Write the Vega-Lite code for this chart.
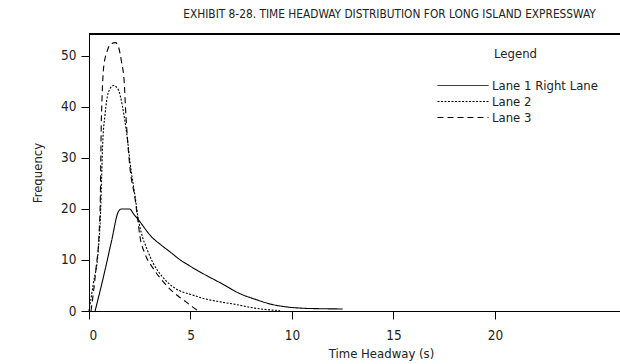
{
  "$schema": "https://vega.github.io/schema/vega-lite/v6.json",
  "autosize": {"type": "none"},
  "width": 531,
  "height": 277,
  "padding": {"left": 89, "top": 34, "right": 0, "bottom": 53},
  "background": "white",
  "config": {
    "view": {"stroke": null},
    "font": "DejaVu Sans Condensed",
    "axis": {"grid": false, "domainColor": "#000", "tickColor": "#000", "labelColor": "#222", "titleColor": "#222", "labelFont": "DejaVu Sans Condensed", "titleFont": "DejaVu Sans Condensed", "labelFontSize": 13.5, "titleFontSize": 13, "titleFontWeight": "normal", "tickSize": 8}
  },
  "title": {
    "text": "EXHIBIT 8-28.  TIME HEADWAY DISTRIBUTION FOR LONG ISLAND EXPRESSWAY",
    "font": "DejaVu Sans Condensed",
    "fontSize": 11.8,
    "fontWeight": "normal",
    "color": "#222",
    "anchor": "middle",
    "frame": "group",
    "dx": 35,
    "offset": 13
  },
  "data": {
    "values": [
      {"lane": "Lane 1 Right Lane", "t": 0.3, "f": 0},
      {"lane": "Lane 1 Right Lane", "t": 0.8, "f": 8.2},
      {"lane": "Lane 1 Right Lane", "t": 1.12, "f": 13.9},
      {"lane": "Lane 1 Right Lane", "t": 1.45, "f": 19.5},
      {"lane": "Lane 1 Right Lane", "t": 1.6, "f": 20},
      {"lane": "Lane 1 Right Lane", "t": 2.0, "f": 20},
      {"lane": "Lane 1 Right Lane", "t": 2.2, "f": 19},
      {"lane": "Lane 1 Right Lane", "t": 2.43, "f": 17.9},
      {"lane": "Lane 1 Right Lane", "t": 3.09, "f": 14.5},
      {"lane": "Lane 1 Right Lane", "t": 3.5, "f": 13.1},
      {"lane": "Lane 1 Right Lane", "t": 3.99, "f": 11.6},
      {"lane": "Lane 1 Right Lane", "t": 4.5, "f": 10},
      {"lane": "Lane 1 Right Lane", "t": 4.98, "f": 8.8},
      {"lane": "Lane 1 Right Lane", "t": 5.63, "f": 7.3},
      {"lane": "Lane 1 Right Lane", "t": 6.62, "f": 5.2},
      {"lane": "Lane 1 Right Lane", "t": 7.44, "f": 3.4},
      {"lane": "Lane 1 Right Lane", "t": 8.26, "f": 2.2},
      {"lane": "Lane 1 Right Lane", "t": 9.0, "f": 1.3},
      {"lane": "Lane 1 Right Lane", "t": 9.74, "f": 0.8},
      {"lane": "Lane 1 Right Lane", "t": 10.5, "f": 0.55},
      {"lane": "Lane 1 Right Lane", "t": 11.4, "f": 0.45},
      {"lane": "Lane 1 Right Lane", "t": 12.5, "f": 0.4},
      {"lane": "Lane 2", "t": 0.0, "f": 0},
      {"lane": "Lane 2", "t": 0.21, "f": 5.3},
      {"lane": "Lane 2", "t": 0.46, "f": 12.1},
      {"lane": "Lane 2", "t": 0.57, "f": 19.3},
      {"lane": "Lane 2", "t": 0.62, "f": 25.9},
      {"lane": "Lane 2", "t": 0.67, "f": 32.3},
      {"lane": "Lane 2", "t": 0.79, "f": 38.5},
      {"lane": "Lane 2", "t": 0.95, "f": 42.8},
      {"lane": "Lane 2", "t": 1.2, "f": 44.2},
      {"lane": "Lane 2", "t": 1.44, "f": 43.4},
      {"lane": "Lane 2", "t": 1.64, "f": 40.3},
      {"lane": "Lane 2", "t": 1.77, "f": 37.2},
      {"lane": "Lane 2", "t": 1.9, "f": 33.5},
      {"lane": "Lane 2", "t": 2.02, "f": 29.2},
      {"lane": "Lane 2", "t": 2.27, "f": 22.5},
      {"lane": "Lane 2", "t": 2.43, "f": 18},
      {"lane": "Lane 2", "t": 2.6, "f": 15},
      {"lane": "Lane 2", "t": 2.84, "f": 12.3},
      {"lane": "Lane 2", "t": 3.17, "f": 9.3},
      {"lane": "Lane 2", "t": 3.6, "f": 6.8},
      {"lane": "Lane 2", "t": 3.99, "f": 5.2},
      {"lane": "Lane 2", "t": 4.5, "f": 3.9},
      {"lane": "Lane 2", "t": 4.98, "f": 3.3},
      {"lane": "Lane 2", "t": 5.6, "f": 2.5},
      {"lane": "Lane 2", "t": 6.45, "f": 1.8},
      {"lane": "Lane 2", "t": 7.2, "f": 1.3},
      {"lane": "Lane 2", "t": 8.26, "f": 0.5},
      {"lane": "Lane 2", "t": 9.4, "f": 0.1},
      {"lane": "Lane 3", "t": 0.1, "f": 0},
      {"lane": "Lane 3", "t": 0.35, "f": 8.5},
      {"lane": "Lane 3", "t": 0.5, "f": 15.5},
      {"lane": "Lane 3", "t": 0.56, "f": 22.5},
      {"lane": "Lane 3", "t": 0.58, "f": 29},
      {"lane": "Lane 3", "t": 0.6, "f": 35.4},
      {"lane": "Lane 3", "t": 0.64, "f": 41.5},
      {"lane": "Lane 3", "t": 0.72, "f": 47.7},
      {"lane": "Lane 3", "t": 0.9, "f": 51},
      {"lane": "Lane 3", "t": 1.05, "f": 52.3},
      {"lane": "Lane 3", "t": 1.3, "f": 52.6},
      {"lane": "Lane 3", "t": 1.44, "f": 51.9},
      {"lane": "Lane 3", "t": 1.6, "f": 48.9},
      {"lane": "Lane 3", "t": 1.74, "f": 44.6},
      {"lane": "Lane 3", "t": 1.8, "f": 39.7},
      {"lane": "Lane 3", "t": 1.9, "f": 33.5},
      {"lane": "Lane 3", "t": 2.02, "f": 28},
      {"lane": "Lane 3", "t": 2.27, "f": 22},
      {"lane": "Lane 3", "t": 2.4, "f": 18},
      {"lane": "Lane 3", "t": 2.51, "f": 14.6},
      {"lane": "Lane 3", "t": 2.75, "f": 11.3},
      {"lane": "Lane 3", "t": 3.17, "f": 8.3},
      {"lane": "Lane 3", "t": 3.6, "f": 6},
      {"lane": "Lane 3", "t": 3.99, "f": 4.3},
      {"lane": "Lane 3", "t": 4.4, "f": 2.9},
      {"lane": "Lane 3", "t": 4.81, "f": 1.7},
      {"lane": "Lane 3", "t": 5.1, "f": 0.8},
      {"lane": "Lane 3", "t": 5.4, "f": 0}
    ]
  },
  "layer": [
    {
      "mark": {"type": "rule", "color": "#000", "strokeWidth": 1},
      "encoding": {"y": {"datum": 54.3, "type": "quantitative"}}
    },
    {
      "mark": {"type": "line", "color": "#000", "strokeWidth": 1.1, "interpolate": "monotone"},
      "encoding": {
        "x": {
          "field": "t", "type": "quantitative",
          "scale": {"domain": [0, 26.16], "nice": false, "zero": false},
          "axis": {"values": [0, 5, 10, 15, 20], "title": "Time Headway (s)", "labelPadding": 9, "titleX": 292, "titlePadding": 6}
        },
        "y": {
          "field": "f", "type": "quantitative",
          "scale": {"domain": [0, 54.3], "nice": false},
          "axis": {"values": [0, 10, 20, 30, 40, 50], "title": "Frequency", "labelPadding": 5, "titlePadding": 16}
        },
        "strokeDash": {
          "field": "lane", "type": "nominal",
          "scale": {"domain": ["Lane 1 Right Lane", "Lane 2", "Lane 3"], "range": [[1, 0], [2, 1.5], [6, 4]]},
          "legend": {
            "title": "Legend",
            "orient": "none",
            "legendX": 388,
            "legendY": 14,
            "padding": 0,
            "titleAnchor": "middle",
            "titleAlign": "right",
            "titleFont": "DejaVu Sans Condensed",
            "titleFontSize": 13,
            "titleFontWeight": "normal",
            "titleColor": "#222",
            "titlePadding": 18,
            "labelFont": "DejaVu Sans Condensed",
            "labelFontSize": 13,
            "labelColor": "#222",
            "labelOffset": 2,
            "symbolType": "M-9.2,0H1",
            "symbolSize": 100,
            "symbolStrokeColor": "#000",
            "symbolStrokeWidth": 1,
            "rowPadding": 2
          }
        }
      }
    }
  ]
}
